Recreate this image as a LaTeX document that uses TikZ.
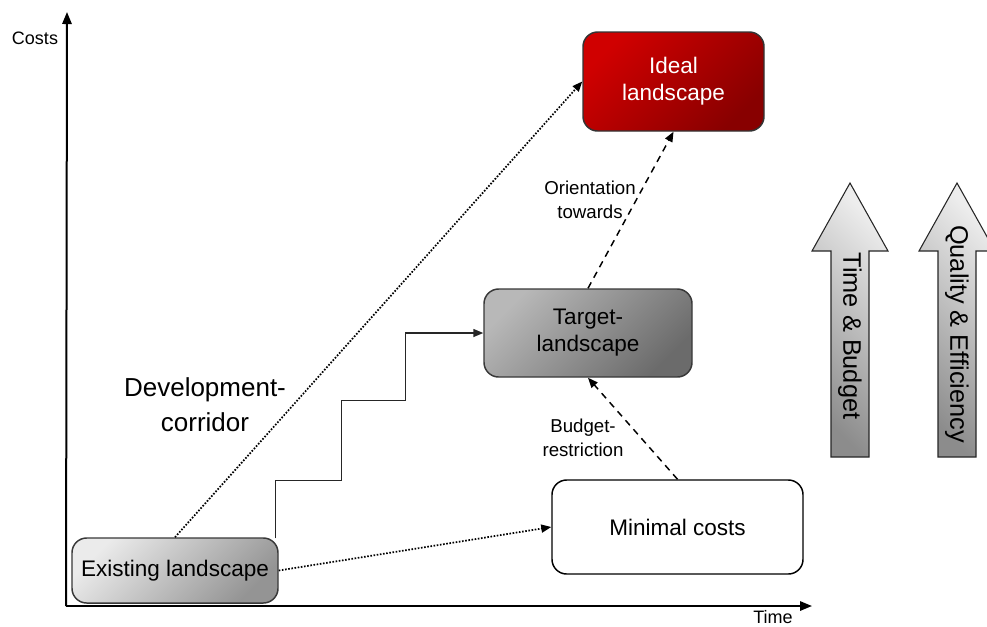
\documentclass[tikz,border=0pt]{standalone}
\usepackage{fontspec}
\setmainfont{Liberation Sans}
\usetikzlibrary{arrows.meta,calc}
\begin{document}
\begin{tikzpicture}[x=0.75pt,y=-0.75pt,
  box/.style={draw=black!78, line width=1.1pt, rounded corners=11pt, inner sep=0pt,
    align=center, font=\fontsize{16.9}{20.2}\selectfont},
  axis/.style={line width=1.5pt, -{Triangle[length=9pt,width=7pt]}},
  dots/.style={line width=1.3pt, dash pattern=on 1.2pt off 1.2pt, -{Triangle[length=7.5pt,width=6pt]}},
  dashes/.style={line width=1.1pt, dash pattern=on 5pt off 4pt, -{Triangle[length=7.5pt,width=6pt]}},
  stairs/.style={line width=1.1pt, draw=black!85, -{Triangle[length=7.5pt,width=6pt]}},
  label/.style={align=center, inner sep=0pt, font=\fontsize{14}{18}\selectfont},
  bigarrow/.style={draw=black!85, line width=0.8pt, top color=white!93!black,
    bottom color=black!45, shading angle=-45},
  arrowtext/.style={rotate=-90, inner sep=0pt, font=\fontsize{19}{22}\selectfont}
]
\useasboundingbox (0,0) rectangle (987,626);

% axes
\coordinate (origin) at (66,606);
\coordinate (ytip) at (67,12);
\coordinate (xtip) at (812,606);
\draw[axis] (origin) -- (ytip);
\draw[axis] (origin) -- (xtip);
\node[inner sep=0pt, font=\fontsize{13.5}{16}\selectfont] (costs) at (35,38) {Costs};
\node[inner sep=0pt, font=\fontsize{13.5}{16}\selectfont] (time) at (773,617) {Time};

% landscapes
\node[box, minimum width=154.5pt, minimum height=48.75pt,
      top color=black!8, bottom color=black!42, shading angle=45] (exist) at (175,570.5) {Existing landscape};
\node[box, draw=black, fill=white, minimum width=188.25pt, minimum height=70.5pt] (minimal) at (677.5,527) {Minimal costs};
\node[box, minimum width=156pt, minimum height=66pt,
      top color=black!28, bottom color=black!58, shading angle=45] (target) at (588,333) {Target-\\landscape};
\node[box, draw=black!80, text=white, minimum width=135.75pt, minimum height=74.25pt,
      top color={rgb,255:red,208;green,0;blue,0}, bottom color={rgb,255:red,136;green,0;blue,0},
      shading angle=45] (ideal) at (673.5,81.5) {Ideal\\landscape};

% connectors
\draw[dots] (exist.north) -- (ideal.west);
\draw[dots] (exist.east) -- (minimal.west);
\coordinate (s0) at ($(exist.north east)+(-3,1)$);
\draw[stairs] (s0) -- ++(0,-58) -- ++(66,0) -- ++(0,-80) -- ++(64,0) |- (target.west);
\draw[dashes] (minimal.north) -- (target.south);
\draw[dashes] (target.north) -- (ideal.south);

% labels
\node[label] (orient) at (590,200) {Orientation\\towards};
\node[label] (budget) at (583,438) {Budget-\\restriction};
\node[align=center, inner sep=0pt, font=\fontsize{19.5}{26}\selectfont] (corridor) at (205,405) {Development-\\corridor};

% trend arrows
\draw[bigarrow] (831,457) -- (831,251) -- (812,251) -- (850,183) -- (888,251) -- (869,251) -- (869,457) -- cycle;
\node[arrowtext] (tb) at (850,336) {Time \& Budget};
\draw[bigarrow] (938,457) -- (938,251) -- (919,251) -- (957,183) -- (995,251) -- (976,251) -- (976,457) -- cycle;
\node[arrowtext] (qe) at (957,334) {Quality \& Efficiency};
\end{tikzpicture}
\end{document}
